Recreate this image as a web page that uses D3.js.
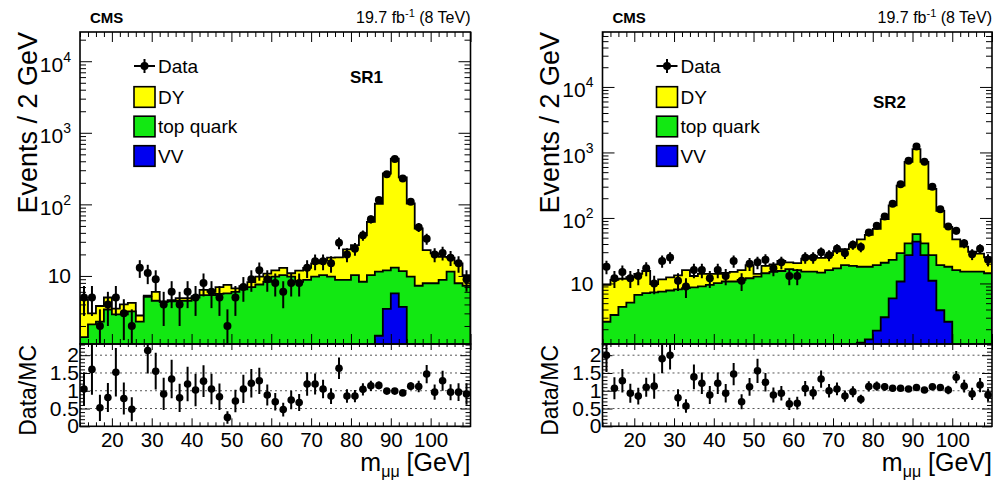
<!DOCTYPE html>
<html><head><meta charset="utf-8">
<script src="https://cdn.jsdelivr.net/npm/d3@7"></script>
<style>
body{margin:0;background:#fff}
svg{display:block;font-family:"Liberation Sans",Arial,Helvetica,sans-serif}
</style>
</head><body>
<svg id="c" width="1000" height="483"></svg>
<script>
// ---------------- data ----------------
const massBins = [13,15,17,19,21,23,25,27,29,31,33,35,37,39,41,43,45,47,49,51,53,55,57,59,61,63,65,67,69,71,73,75,77,79,81,83,85,87,89,91,93,95,97,99,101,103,105,107,109];
const binWidth = 2;
const xDomain = [12, 110];
const xMajorTicks = [20,30,40,50,60,70,80,90,100];
const yLogTicks = [10,100,1000,10000];
const ratioTicks = [0,0.5,1,1.5,2];
const ratioTickLabels = ["0","0.5","1","1.5","2"];
const legendLabels = ["Data","DY","top quark","VV"];

const sr1Data = [5,5,2,4,5,3,2,13,11,9,4,6,4,6,5,8,6,5,2,5,7,9,12,9,8,6,8,8,13,16,16,15,29,20,24,37,62,115,264,432,230,109,48,33,20,21,18,15,9];
const sr1DY   = [3.3,0.9,1.5,1.6,0.6,1.1,1.0,0.5,0.2,1.5,0.1,0.2,0.4,0.4,0.2,1.0,0.6,1.4,1.8,0.7,0.7,1.2,2.2,2.5,2.2,2.7,1.1,3.6,4.2,5.2,6.2,8.2,9.4,14.7,16.7,28.7,46.7,90.5,258,421,226,93,38.7,15.1,12.8,9.7,6.5,7.1,3.0];
const sr1Top  = [1.4,2.1,2.3,3.4,2.9,2.9,3.2,2.3,5.1,4.5,4.3,4.4,4.5,4.5,5.0,5.4,5.4,5.6,5.7,6.0,6.5,7.0,7.6,8.3,9.8,10.3,9.8,8.3,8.8,9.8,10.3,9.8,8.8,8.8,10.3,8.3,10.3,10.0,8.5,7.4,8.0,9.8,7.3,7.9,7.9,8.8,11.5,7.9,7.3];
const sr1VV   = [0,0,0,0,0,0,0,0,0,0,0,0,0,0,0,0,0,0,0,0,0,0,0,0,0,0,0,0,0,0,0,0,0,0,0,0,0,1.46,3.47,5.7,3.7,0,0,0,0,0,0,0,0];
const sr1Ratio= [1.05,1.6,0.52,0.81,1.52,0.78,0.48,4.6,2.13,1.55,0.91,1.33,0.8,1.19,1.02,1.27,1.05,0.83,0.25,0.71,1.05,1.21,1.28,0.88,0.69,0.47,0.74,0.67,1.19,1.19,1.05,0.85,1.63,0.85,0.85,1.04,1.14,1.15,0.99,0.99,0.94,1.13,1.12,1.47,0.96,1.28,0.96,0.96,0.91];

const sr2Data = [18,12,15,12,13,17,10,22,25,11,9,16,16,12,16,13,22,11,20,21,23,17,21,13,13,25,25,30,27,34,29,39,36,60,76,105,164,327,750,1228,724,300,136,74,64,41,28,34,23];
const sr2DY   = [6.9,8.0,7.4,7.4,7.3,8.4,2.5,4.0,4.6,5.2,7.5,4.3,5,4.5,3.9,3.8,4.3,4.7,7,1.3,4.2,4.5,6.5,4.5,4.5,8.8,10.8,9.9,11,14,14.5,21,29,37,49,75.3,133,283,679,1063.5,679,251,109,55,31,21.3,15.3,13.3,10.7];
const sr2Top  = [2.6,3.3,4.4,5.1,6.7,7.1,7.3,7.5,7.8,8.1,8.5,8.7,9.0,9.5,10.1,10.7,10.7,11.3,12,12.7,14.3,15,15.5,16.5,16,15.2,15.2,14.6,16,17,19,18.5,16.75,16.6,17.1,17.65,17,18.3,14,13.1,14,16,15.1,15.4,14.9,15.2,15.2,15.2,14.3];
const sr2VV   = [0,0,0,0,0,0,0,0,0,0,0,0,0,0,0,0,0,0,0,0,0,0,0,0,0,0,0,0,0,0,0,0,1.25,1.4,1.9,3.05,5.9,10.7,27,43.4,27,11,3.9,2.6,1.1,0,0,0,0];
const sr2Ratio= [2.0,1.07,1.28,0.93,0.85,1.1,1.13,1.9,2.0,0.8,0.57,1.39,1.21,0.88,1.21,0.93,1.47,0.69,1.11,1.56,1.24,0.88,0.93,0.63,0.65,1.06,0.94,1.33,1.0,1.05,0.85,0.97,0.76,1.12,1.13,1.11,1.07,1.07,1.05,1.09,1.02,1.11,1.09,1.02,1.38,1.13,0.91,1.16,0.88];

// ---------------- drawing ----------------
const COL = {dy:"#ffff00", top:"#12e812", vv:"#0000f0"};
const yTop = 32, yBot = 344, rBot = 426.3, ratioMax = 2.315;
const svg = d3.select("#c");
const defs = svg.append("defs");

function drawPanel(p) {
  const g = svg.append("g");
  const x = d3.scaleLinear().domain(xDomain).range([p.x0, p.x1]);
  const y = d3.scaleLog().domain([p.ymin, p.ymax]).range([yBot, yTop]);
  const r = d3.scaleLinear().domain([0, ratioMax]).range([rBot, yBot]);

  defs.append("clipPath").attr("id","cu"+p.id).append("rect")
    .attr("x",p.x0).attr("y",yTop).attr("width",p.x1-p.x0).attr("height",yBot-yTop);
  defs.append("clipPath").attr("id","cr"+p.id).append("rect")
    .attr("x",p.x0).attr("y",yBot).attr("width",p.x1-p.x0).attr("height",rBot-yBot);

  const cumVV = p.vv;
  const cumTop = p.top.map((v,i)=>v+cumVV[i]);
  const cumAll = p.dy.map((v,i)=>v+cumTop[i]);
  const yv = v => v>0 ? y(v) : yBot+30;
  const step = vals => {
    let s = `M${x(xDomain[0])},${yBot+30}`;
    vals.forEach((v,i)=>{ const c = massBins[i];
      s += `L${x(c-binWidth/2)},${yv(v)}L${x(c+binWidth/2)},${yv(v)}`; });
    return s + `L${x(xDomain[1])},${yBot+30}Z`;
  };
  const up = g.append("g").attr("clip-path",`url(#cu${p.id})`);
  [[cumAll,COL.dy],[cumTop,COL.top],[cumVV,COL.vv]].forEach(([vals,c])=>{
    up.append("path").attr("d",step(vals)).attr("fill",c)
      .attr("stroke","#000").attr("stroke-width",1.8).attr("stroke-linejoin","miter");
  });
  // data points
  const pts = massBins.map((c,i)=>({c, n:p.data[i], rr:p.ratio[i]}));
  up.selectAll("line.err").data(pts).join("line")
    .attr("x1",d=>x(d.c)).attr("x2",d=>x(d.c))
    .attr("y1",d=>{const lo=d.n-Math.sqrt(d.n); return lo>0?y(lo):yBot+10;})
    .attr("y2",d=>y(d.n+Math.sqrt(d.n)))
    .attr("stroke","#000").attr("stroke-width",2);
  up.selectAll("circle").data(pts).join("circle")
    .attr("cx",d=>x(d.c)).attr("cy",d=>y(d.n)).attr("r",4).attr("fill","#000");

  // ratio pane
  const lo = g.append("g").attr("clip-path",`url(#cr${p.id})`);
  lo.selectAll("line.grid").data(ratioTicks.filter(t=>t>0)).join("line")
    .attr("x1",p.x0).attr("x2",p.x1).attr("y1",d=>r(d)).attr("y2",d=>r(d))
    .attr("stroke","#555").attr("stroke-width",1).attr("stroke-dasharray","2,3");
  lo.selectAll("line.rerr").data(pts).join("line")
    .attr("x1",d=>x(d.c)).attr("x2",d=>x(d.c))
    .attr("y1",d=>r(d.rr - d.rr/Math.sqrt(d.n)))
    .attr("y2",d=>r(d.rr + d.rr/Math.sqrt(d.n)))
    .attr("stroke","#000").attr("stroke-width",2);
  lo.selectAll("circle").data(pts).join("circle")
    .attr("cx",d=>x(d.c)).attr("cy",d=>r(d.rr)).attr("r",3.8).attr("fill","#000");

  // ticks
  const minorX = d3.range(xDomain[0], xDomain[1]+0.01, 2).filter(v=>v%10!==0);
  const majorX = d3.range(20, 111, 10);
  const axG = g.append("g").attr("stroke-width",1);
  const addAxis = (ax, tr) => { const a = axG.append("g").attr("transform",tr).call(ax);
    a.select(".domain").remove(); a.selectAll("line").attr("stroke","#000"); return a; };
  addAxis(d3.axisTop(x).tickValues(minorX).tickSize(-5).tickFormat(""), `translate(0,${yTop})`);
  addAxis(d3.axisTop(x).tickValues(majorX).tickSize(-10).tickFormat(""), `translate(0,${yTop})`);
  addAxis(d3.axisBottom(x).tickValues(minorX).tickSize(-5).tickFormat(""), `translate(0,${yBot})`);
  addAxis(d3.axisBottom(x).tickValues(majorX).tickSize(-10).tickFormat(""), `translate(0,${yBot})`);
  addAxis(d3.axisTop(x).tickValues(minorX).tickSize(-3).tickFormat(""), `translate(0,${yBot})`);
  addAxis(d3.axisTop(x).tickValues(majorX).tickSize(-6).tickFormat(""), `translate(0,${yBot})`);
  addAxis(d3.axisBottom(x).tickValues(minorX).tickSize(-4).tickFormat(""), `translate(0,${rBot})`);
  const xb = addAxis(d3.axisBottom(x).tickValues(xMajorTicks).tickSize(-8).tickFormat(d3.format("d")), `translate(0,${rBot})`);
  xb.selectAll("text").attr("y",21).attr("dy",null).attr("fill","#000")
    .attr("font-size",20.5).attr("font-family","Liberation Sans, Arial, sans-serif");

  const [lmin,lmax] = [Math.floor(Math.log10(p.ymin)), Math.ceil(Math.log10(p.ymax))];
  const minorY = [];
  for (let k=lmin;k<=lmax;k++) for (let m=2;m<=9;m++){const v=m*Math.pow(10,k); if(v>p.ymin&&v<p.ymax) minorY.push(v);}
  addAxis(d3.axisLeft(y).tickValues(minorY).tickSize(-6).tickFormat(""), `translate(${p.x0},0)`);
  addAxis(d3.axisLeft(y).tickValues(yLogTicks).tickSize(-12).tickFormat(""), `translate(${p.x0},0)`);
  addAxis(d3.axisRight(y).tickValues(minorY).tickSize(-6).tickFormat(""), `translate(${p.x1},0)`);
  addAxis(d3.axisRight(y).tickValues(yLogTicks).tickSize(-12).tickFormat(""), `translate(${p.x1},0)`);
  const minorR = d3.range(0.1, ratioMax, 0.1).filter(v=>Math.abs(v*2-Math.round(v*2))>0.01);
  addAxis(d3.axisLeft(r).tickValues(minorR).tickSize(-5).tickFormat(""), `translate(${p.x0},0)`);
  addAxis(d3.axisLeft(r).tickValues(ratioTicks).tickSize(-10).tickFormat(""), `translate(${p.x0},0)`);
  addAxis(d3.axisRight(r).tickValues(minorR).tickSize(-5).tickFormat(""), `translate(${p.x1},0)`);
  addAxis(d3.axisRight(r).tickValues(ratioTicks).tickSize(-10).tickFormat(""), `translate(${p.x1},0)`);

  // frames
  g.append("rect").attr("x",p.x0).attr("y",yTop).attr("width",p.x1-p.x0).attr("height",yBot-yTop)
    .attr("fill","none").attr("stroke","#000").attr("stroke-width",1.6);
  g.append("rect").attr("x",p.x0).attr("y",yBot).attr("width",p.x1-p.x0).attr("height",rBot-yBot)
    .attr("fill","none").attr("stroke","#000").attr("stroke-width",1.6);

  // log y labels
  yLogTicks.forEach(v=>{
    const e = Math.round(Math.log10(v));
    const t = g.append("text").attr("x",p.x0-9).attr("text-anchor","end").attr("font-size",21);
    if (e===1) { t.attr("y",y(v)+7.5).text("10"); }
    else { t.attr("y",y(v)+10.5).text("10");
      t.append("tspan").attr("font-size",14).attr("dy",-10).text(String(e)); }
  });
  // ratio labels
  ratioTicks.forEach((v,i)=>{
    g.append("text").attr("x",p.x0-1).attr("y",r(v)+7).attr("text-anchor","end")
      .attr("font-size",21).text(ratioTickLabels[i]);
  });
  // axis titles
  g.append("text").attr("transform",`translate(${p.x0-43.5},${yTop}) rotate(-90)`)
    .attr("text-anchor","end").attr("font-size",27).text("Events / 2 GeV");
  g.append("text").attr("transform",`translate(${p.x0-44.5},${yBot+1}) rotate(-90)`)
    .attr("text-anchor","end").attr("font-size",23).text("Data/MC");
  const xt = g.append("text").attr("x",p.x1).attr("y",471).attr("text-anchor","end").attr("font-size",25);
  xt.append("tspan").text("m");
  xt.append("tspan").attr("font-size",16).attr("dy",6).text("μμ");
  xt.append("tspan").attr("dy",-6).text(" [GeV]");

  // header
  g.append("text").attr("x",p.x0+10).attr("y",23).attr("font-size",15).attr("font-weight","bold").text("CMS");
  const lt = g.append("text").attr("x",p.x1).attr("y",23).attr("text-anchor","end").attr("font-size",16);
  lt.append("tspan").text("19.7 fb");
  lt.append("tspan").attr("font-size",11).attr("dy",-6).text("-1");
  lt.append("tspan").attr("dy",6).text(" (8 TeV)");
  g.append("text").attr("x",p.labelX).attr("y",p.labelY).attr("font-size",17).attr("font-weight","bold").text(p.label);

  // legend
  const lx = p.x0+54, cx = lx+10.5;
  g.append("line").attr("x1",lx).attr("x2",lx+21).attr("y1",66).attr("y2",66).attr("stroke","#000").attr("stroke-width",2);
  g.append("line").attr("x1",cx).attr("x2",cx).attr("y1",59).attr("y2",73).attr("stroke","#000").attr("stroke-width",2);
  g.append("circle").attr("cx",cx).attr("cy",66).attr("r",4).attr("fill","#000");
  g.append("text").attr("x",lx+24).attr("y",72.5).attr("font-size",19).text(legendLabels[0]);
  [COL.dy, COL.top, COL.vv].forEach((c,i)=>{
    const cy = 97 + i*29.5;
    g.append("rect").attr("x",lx).attr("y",cy-10.3).attr("width",21).attr("height",20.6)
      .attr("fill",c).attr("stroke","#000").attr("stroke-width",1.6);
    g.append("text").attr("x",lx+24).attr("y",cy+6.8).attr("font-size",19).text(legendLabels[i+1]);
  });
}

drawPanel({id:1, x0:80, x1:470.5, ymin:1.12, ymax:25600,
  data:sr1Data, dy:sr1DY, top:sr1Top, vv:sr1VV, ratio:sr1Ratio,
  label:"SR1", labelX:350, labelY:83});
drawPanel({id:2, x0:602.5, x1:992, ymin:1.19, ymax:69000,
  data:sr2Data, dy:sr2DY, top:sr2Top, vv:sr2VV, ratio:sr2Ratio,
  label:"SR2", labelX:873, labelY:108});
</script>
</body></html>
